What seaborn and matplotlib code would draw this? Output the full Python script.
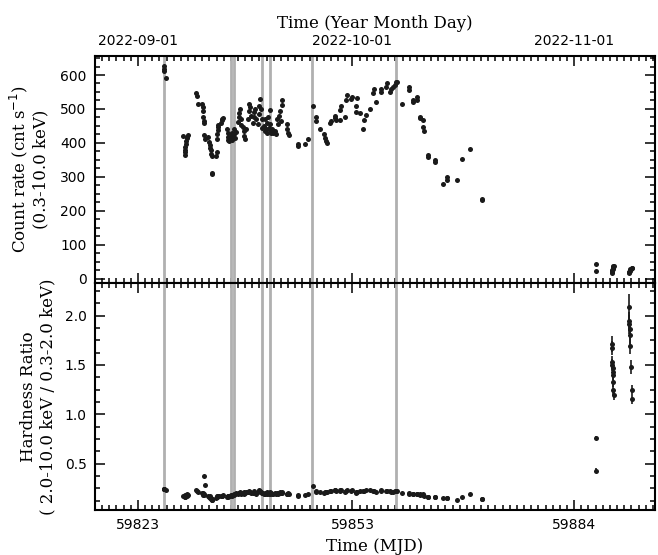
import matplotlib
matplotlib.use("Agg")
import matplotlib.pyplot as plt
from matplotlib.ticker import FixedLocator, FixedFormatter, MultipleLocator, AutoMinorLocator
import pandas as pd
import seaborn as sns

# bright state: time (MJD), count rate (0.3-10 keV), hardness ratio
mjd = [59826.60, 59826.65, 59826.70, 59826.90,
       59829.30, 59829.52, 59829.56, 59829.60, 59829.64, 59829.70, 59829.76, 59829.82, 59829.88, 59829.94,
       59831.15, 59831.20, 59831.35,
       59832.00, 59832.05, 59832.10, 59832.15, 59832.20, 59832.25, 59832.30, 59832.35,
       59832.80, 59833.00, 59833.05, 59833.10, 59833.20, 59833.25, 59833.30, 59833.40, 59833.42,
       59833.95, 59834.00, 59834.05, 59834.10, 59834.15, 59834.20, 59834.25,
       59834.60, 59834.70, 59834.80, 59834.90,
       59835.50, 59835.55, 59835.60, 59835.65, 59835.70,
       59835.90, 59836.00, 59836.10, 59836.20, 59836.30, 59836.40, 59836.50, 59836.60, 59836.70,
       59837.00, 59837.10, 59837.20, 59837.30, 59837.40, 59837.45,
       59837.70, 59837.80, 59837.90, 59838.00, 59838.10,
       59838.40, 59838.50, 59838.60, 59838.70, 59838.80,
       59839.10, 59839.20, 59839.30, 59839.40, 59839.50,
       59839.80, 59839.90, 59840.00, 59840.10, 59840.20, 59840.30, 59840.40,
       59840.60, 59840.70, 59840.80, 59840.90, 59841.00, 59841.10, 59841.20, 59841.30, 59841.40, 59841.45,
       59841.50, 59841.60,
       59841.80, 59841.95, 59842.10, 59842.25,
       59842.40, 59842.55, 59842.70, 59842.85, 59843.00, 59843.10, 59843.15,
       59843.80, 59843.90, 59844.00, 59844.10,
       59845.40, 59845.45, 59846.30, 59846.80, 59847.50, 59847.90, 59847.95, 59848.40,
       59849.00, 59849.10, 59849.35, 59849.45, 59849.90, 59850.05, 59850.50, 59850.60, 59850.75,
       59851.20, 59851.30, 59851.35, 59851.90, 59852.15, 59852.20, 59852.85, 59852.90,
       59853.50, 59853.55, 59853.60, 59854.00, 59854.50, 59854.55, 59854.95, 59855.40,
       59855.90, 59855.95, 59856.35, 59856.95, 59857.05, 59857.75, 59857.80, 59858.20,
       59858.45, 59858.70, 59859.00, 59859.10, 59859.20, 59859.86, 59860.93, 59860.95,
       59861.50, 59861.52, 59862.00, 59862.05, 59862.40, 59862.45, 59862.90, 59862.92,
       59862.95, 59863.60, 59863.62, 59864.50, 59864.52, 59865.60, 59866.15, 59866.17,
       59867.65, 59868.25, 59869.50, 59871.15, 59871.17]
rate = [626, 619, 612, 592,
        421, 364, 372, 380, 388, 396, 405, 413, 418, 423,
        546, 538, 516,
        514, 505, 495, 475, 465, 458, 422, 412,
        418, 404, 394, 385, 378, 368, 360, 312, 308,
        360, 372, 410, 425, 437, 447, 452,
        460, 466, 470, 474,
        440, 430, 418, 408, 405,
        412, 420, 408, 430, 418, 440, 425, 415, 432,
        462, 475, 488, 500, 470, 452,
        448, 435, 420, 412, 440,
        470, 495, 515, 505, 480,
        460, 475, 492, 500, 470,
        455, 485, 510, 530, 500, 470, 445,
        450, 435, 470, 440, 460, 430, 475, 445, 498, 455,
        438, 428,
        440, 430, 435, 425,
        470, 455, 480, 495, 465, 525, 512,
        455, 440, 430, 422,
        398, 392, 398, 410, 508, 475, 465, 440,
        425, 415, 405, 400, 460, 465, 472, 478, 466,
        467, 497, 510, 477, 526, 540, 530, 536,
        492, 510, 531, 487, 442, 467, 482, 501,
        546, 560, 521, 550, 560, 565, 575, 550,
        560, 565, 570, 578, 580, 516, 557, 565,
        520, 526, 527, 536, 472, 477, 467, 447,
        436, 359, 364, 344, 349, 278, 290, 300,
        290, 353, 381, 236, 232]
hr = [0.245, 0.240, 0.238, 0.236,
      0.175, 0.160, 0.170, 0.180, 0.165, 0.185, 0.172, 0.190, 0.168, 0.178,
      0.230, 0.225, 0.212,
      0.205, 0.190, 0.200, 0.185, 0.195, 0.180, 0.375, 0.280,
      0.175, 0.160, 0.170, 0.150, 0.140, 0.155, 0.135, 0.145, 0.130,
      0.150, 0.160, 0.170, 0.165, 0.175, 0.168, 0.172,
      0.170, 0.175, 0.168, 0.178,
      0.165, 0.170, 0.160, 0.175, 0.168,
      0.172, 0.180, 0.176, 0.185, 0.178, 0.195, 0.182, 0.190, 0.200,
      0.195, 0.205, 0.198, 0.210, 0.192, 0.200,
      0.205, 0.195, 0.210, 0.200, 0.215,
      0.208, 0.215, 0.225, 0.212, 0.205,
      0.200, 0.210, 0.218, 0.205, 0.195,
      0.210, 0.220, 0.235, 0.225, 0.215, 0.205, 0.200,
      0.195, 0.190, 0.205, 0.200, 0.210, 0.195, 0.205, 0.188, 0.210, 0.200,
      0.192, 0.198,
      0.195, 0.190, 0.200, 0.188,
      0.200, 0.195, 0.205, 0.210, 0.198, 0.215, 0.205,
      0.195, 0.190, 0.200, 0.188,
      0.180, 0.175, 0.182, 0.190, 0.270, 0.215, 0.220, 0.210,
      0.205, 0.212, 0.208, 0.215, 0.220, 0.225, 0.228, 0.230, 0.222,
      0.235, 0.225, 0.230, 0.215, 0.220, 0.228, 0.225, 0.232,
      0.205, 0.210, 0.215, 0.218, 0.225, 0.220, 0.228, 0.230,
      0.222, 0.226, 0.215, 0.220, 0.228, 0.218, 0.225, 0.222,
      0.216, 0.212, 0.220, 0.225, 0.218, 0.205, 0.195, 0.200,
      0.190, 0.195, 0.188, 0.192, 0.185, 0.190, 0.180, 0.195,
      0.175, 0.160, 0.165, 0.165, 0.160, 0.150, 0.148, 0.152,
      0.130, 0.165, 0.190, 0.140, 0.138]

# faint state (Nov 2022), hardness ratio with error bars
late_mjd = [59887.05, 59887.10,
            59889.25, 59889.28, 59889.31, 59889.34, 59889.37, 59889.40, 59889.43, 59889.46, 59889.50, 59889.55,
            59891.62, 59891.66, 59891.70, 59891.74, 59891.78, 59891.82, 59891.95, 59892.08, 59892.15]
late_rate = [23, 42,
             17, 20, 23, 26, 29, 31, 33, 35, 36, 37,
             17, 18, 20, 22, 24, 27, 29, 31, 32]
late_hr = [0.43, 0.76,
           1.71, 1.67, 1.53, 1.50, 1.47, 1.43, 1.40, 1.33, 1.25, 1.20,
           2.09, 1.94, 1.91, 1.86, 1.80, 1.69, 1.48, 1.25, 1.15]
late_hr_err = [0.03, 0.02,
               0.08, 0.07, 0.06, 0.06, 0.06, 0.06, 0.05, 0.05, 0.05, 0.06,
               0.13, 0.10, 0.10, 0.09, 0.09, 0.08, 0.07, 0.05, 0.05]

# epochs marked with vertical lines
line_mjd = [59826.64, 59836.05, 59836.50, 59840.40, 59841.40, 59847.35, 59859.15]

tick_mjd = [59823, 59853, 59884]
tick_dates = ['2022-09-01', '2022-10-01', '2022-11-01']

df = pd.DataFrame({'MJD': mjd + late_mjd, 'rate': rate + late_rate, 'hr': hr + late_hr})

sns.set_theme(style="ticks")
plt.rcParams['font.family'] = ['DejaVu Sans']
plt.rcParams['axes.linewidth'] = 1.5
plt.rcParams['axes.edgecolor'] = 'black'
plt.rcParams['xtick.color'] = 'black'
plt.rcParams['ytick.color'] = 'black'
plt.rcParams['text.color'] = 'black'
plt.rcParams['axes.labelcolor'] = 'black'

fig = plt.figure(figsize=(6.58, 5.55), dpi=100)
ax1 = fig.add_axes([0.1444, 0.4901, 0.851, 0.4090])
ax2 = fig.add_axes([0.1444, 0.0811, 0.851, 0.4090])

for ax in (ax1, ax2):
    for x in line_mjd:
        ax.axvline(x, color='#b0b0b0', lw=2, zorder=1)

sns.scatterplot(data=df, x='MJD', y='rate', ax=ax1, color='k', s=13, linewidth=0, zorder=3)
sns.scatterplot(data=df, x='MJD', y='hr', ax=ax2, color='k', s=13, linewidth=0, zorder=3)
ax2.errorbar(late_mjd, late_hr, yerr=late_hr_err, fmt='none', ecolor='k', elinewidth=1.2, zorder=2)

for ax in (ax1, ax2):
    ax.set_xlim(59817.0, 59895.3)
    ax.xaxis.set_major_locator(FixedLocator(tick_mjd))
    ax.xaxis.set_minor_locator(MultipleLocator(1))
    ax.yaxis.set_minor_locator(AutoMinorLocator(4))
    ax.tick_params(which='both', direction='in', top=True, right=True, width=1.1,
                   labelsize=10, colors='black')
    ax.tick_params(which='major', length=7)
    ax.tick_params(which='minor', length=3.5)
    ax.tick_params(axis='y', pad=6)

ax1.set_ylim(-13, 656)
ax1.yaxis.set_major_locator(MultipleLocator(100))
ax1.xaxis.set_major_formatter(FixedFormatter(tick_dates))
ax1.tick_params(axis='x', labelbottom=False, labeltop=True, pad=6)
ax1.xaxis.set_label_position('top')
ax1.set_xlabel('Time (Year Month Day)', family='DejaVu Serif', fontsize=12, labelpad=4)
ax1.set_ylabel('Count rate (cnt s$^{-1}$)\n(0.3-10.0 keV)', family='DejaVu Serif', fontsize=12,
               labelpad=8)

ax2.set_ylim(0.03, 2.33)
ax2.yaxis.set_major_locator(FixedLocator([0.5, 1.0, 1.5, 2.0]))
ax2.xaxis.set_major_formatter(FixedFormatter([str(t) for t in tick_mjd]))
ax2.tick_params(axis='x', pad=6)
ax2.set_xlabel('Time (MJD)', family='DejaVu Serif', fontsize=12, labelpad=4)
ax2.set_ylabel('Hardness Ratio\n( 2.0-10.0 keV / 0.3-2.0 keV)', family='DejaVu Serif', fontsize=12,
               labelpad=6)

fig.savefig('out.png', dpi=100)
